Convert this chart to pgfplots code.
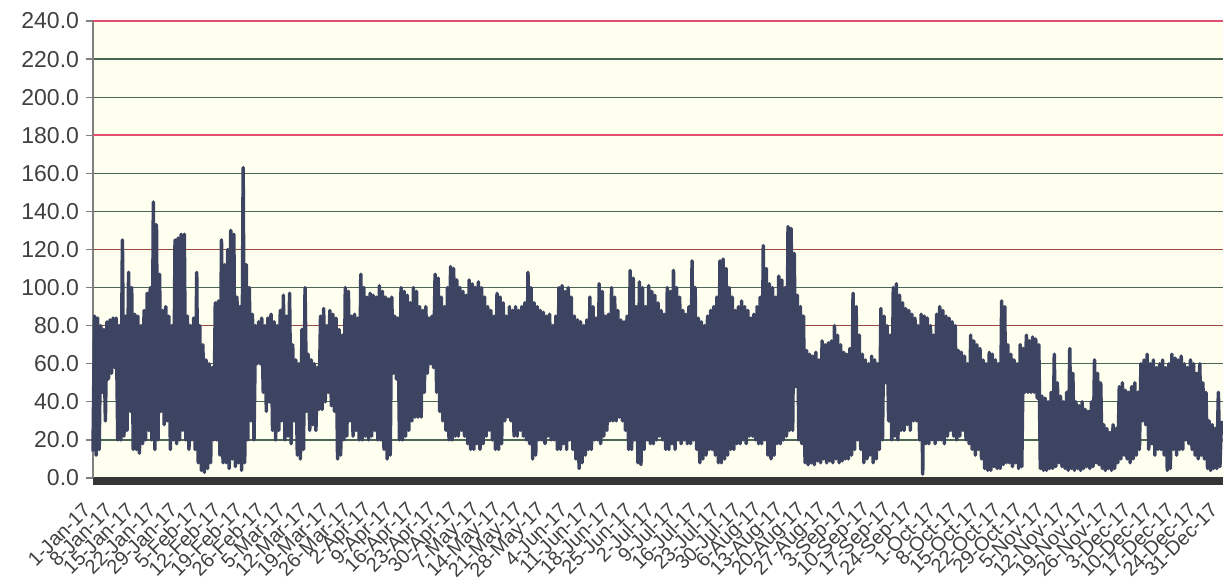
\documentclass[border=0pt]{standalone}
\usepackage{fontspec}
\setmainfont{Liberation Sans}
\usepackage{pgfplots}
\pgfplotsset{compat=1.18}
\definecolor{bgc}{HTML}{FFFFF0}
\definecolor{ser}{HTML}{3D4462}
\definecolor{gridg}{HTML}{4A6656}
\definecolor{gridr}{HTML}{E0506E}
\definecolor{gridb}{HTML}{9A4A40}
\definecolor{txt}{HTML}{404040}
\definecolor{axd}{HTML}{353535}
\begin{document}
\begin{tikzpicture}
\begin{axis}[name=ax,
  width=565bp, height=228.5bp, scale only axis,
  xmin=0, xmax=365, ymin=0, ymax=240,
  axis background/.style={fill=bgc},
  axis x line=bottom, axis y line=left,
  x axis line style={-, line width=4bp, color=axd, yshift=-1.5bp},
  y axis line style={-, line width=0.7bp, color=gray},
  ytick={0,20,...,240},
  tick align=outside, major tick length=3.5bp,
  ytick style={color=gray, line width=0.6bp},
  xtick style={draw=none},
  ymajorgrids, major grid style={gridg, line width=0.6bp},
  /pgf/number format/assume math mode=true,
  yticklabel={\pgfmathprintnumber[fixed,fixed zerofill,precision=1]{\tick}},
  yticklabel style={font=\fontsize{11.5bp}{13bp}\selectfont, text=txt},
  xtick={0,7,...,364},
  xticklabels={1-Jan-17,8-Jan-17,15-Jan-17,22-Jan-17,29-Jan-17,5-Feb-17,12-Feb-17,19-Feb-17,26-Feb-17,5-Mar-17,12-Mar-17,19-Mar-17,26-Mar-17,2-Apr-17,9-Apr-17,16-Apr-17,23-Apr-17,30-Apr-17,7-May-17,14-May-17,21-May-17,28-May-17,4-Jun-17,11-Jun-17,18-Jun-17,25-Jun-17,2-Jul-17,9-Jul-17,16-Jul-17,23-Jul-17,30-Jul-17,6-Aug-17,13-Aug-17,20-Aug-17,27-Aug-17,3-Sep-17,10-Sep-17,17-Sep-17,24-Sep-17,1-Oct-17,8-Oct-17,15-Oct-17,22-Oct-17,29-Oct-17,5-Nov-17,12-Nov-17,19-Nov-17,26-Nov-17,3-Dec-17,10-Dec-17,17-Dec-17,24-Dec-17,31-Dec-17},
  xticklabel style={font=\fontsize{10bp}{12bp}\selectfont, text=txt, yshift=-8.5bp, xshift=-0.5bp, rotate=45, anchor=east},
  clip=false,
]
\draw[gridr, line width=1.2bp] (axis cs:0,240) -- (axis cs:365,240);
\draw[gridr, line width=0.8bp] (axis cs:0,180) -- (axis cs:365,180);
\draw[gridb, line width=0.6bp] (axis cs:0,120) -- (axis cs:365,120);
\draw[gridb, line width=0.6bp] (axis cs:0,80) -- (axis cs:365,80);
\addplot[ser, line width=1.75bp, line join=round] coordinates {
(0,14)(0.5,85)(1,12)(1.5,84)(2,15)(2.5,80)(3,45)(3.5,78)(4,30)(4.5,82)(5,52)(5.5,83)(6,55)(6.5,84)
(7,58)(7.5,84)(8,20)(8.5,80)(9,20)(9.5,125)(10,22)(10.5,85)(11,25)(11.5,108)(12,35)(12.5,100)(13,15)(13.5,86)
(14,15)(14.5,85)(15,13)(15.5,80)(16,18)(16.5,88)(17,20)(17.5,97)(18,25)(18.5,100)(19,20)(19.5,145)(20,15)(20.5,133)
(21,20)(21.5,107)(22,35)(22.5,88)(23,28)(23.5,90)(24,30)(24.5,85)(25,15)(25.5,80)(26,20)(26.5,125)(27,18)(27.5,126)
(28,20)(28.5,128)(29,25)(29.5,128)(30,20)(30.5,85)(31,15)(31.5,80)(32,20)(32.5,84)(33,15)(33.5,108)(34,8)(34.5,80)
(35,4)(35.5,70)(36,3)(36.5,62)(37,5)(37.5,60)(38,8)(38.5,58)(39,20)(39.5,92)(40,20)(40.5,93)(41,12)(41.5,125)
(42,8)(42.5,112)(43,8)(43.5,120)(44,5)(44.5,130)(45,10)(45.5,128)(46,6)(46.5,95)(47,8)(47.5,90)(48,4)(48.5,163)
(49,8)(49.5,112)(50,20)(50.5,100)(51,30)(51.5,86)(52,20)(52.5,80)(53,60)(53.5,82)(54,60)(54.5,84)(55,45)(55.5,80)
(56,35)(56.5,84)(57,40)(57.5,86)(58,25)(58.5,82)(59,20)(59.5,80)(60,25)(60.5,88)(61,30)(61.5,96)(62,20)(62.5,85)
(63,22)(63.5,97)(64,18)(64.5,70)(65,30)(65.5,62)(66,12)(66.5,60)(67,10)(67.5,78)(68,15)(68.5,100)(69,35)(69.5,65)
(70,25)(70.5,62)(71,28)(71.5,60)(72,25)(72.5,58)(73,36)(73.5,85)(74,36)(74.5,89)(75,40)(75.5,80)(76,45)(76.5,88)
(77,38)(77.5,86)(78,35)(78.5,84)(79,10)(79.5,78)(80,12)(80.5,75)(81,20)(81.5,100)(82,22)(82.5,98)(83,30)(83.5,85)
(84,22)(84.5,86)(85,25)(85.5,84)(86,20)(86.5,107)(87,20)(87.5,100)(88,22)(88.5,95)(89,20)(89.5,97)(90,22)(90.5,96)
(91,25)(91.5,95)(92,20)(92.5,101)(93,20)(93.5,98)(94,15)(94.5,95)(95,10)(95.5,94)(96,12)(96.5,95)(97,55)(97.5,85)
(98,52)(98.5,84)(99,20)(99.5,100)(100,20)(100.5,98)(101,22)(101.5,96)(102,25)(102.5,92)(103,30)(103.5,100)(104,32)(104.5,98)
(105,32)(105.5,90)(106,32)(106.5,88)(107,45)(107.5,90)(108,55)(108.5,84)(109,60)(109.5,85)(110,58)(110.5,107)(111,45)(111.5,105)
(112,35)(112.5,95)(113,30)(113.5,90)(114,25)(114.5,100)(115,20)(115.5,111)(116,20)(116.5,110)(117,22)(117.5,104)(118,22)(118.5,100)
(119,25)(119.5,98)(120,22)(120.5,96)(121,18)(121.5,104)(122,15)(122.5,102)(123,15)(123.5,100)(124,18)(124.5,103)(125,15)(125.5,100)
(126,18)(126.5,95)(127,22)(127.5,90)(128,25)(128.5,88)(129,20)(129.5,85)(130,15)(130.5,97)(131,15)(131.5,95)(132,18)(132.5,92)
(133,30)(133.5,85)(134,32)(134.5,90)(135,30)(135.5,88)(136,22)(136.5,90)(137,22)(137.5,88)(138,25)(138.5,90)(139,22)(139.5,92)
(140,20)(140.5,108)(141,18)(141.5,100)(142,10)(142.5,92)(143,12)(143.5,90)(144,20)(144.5,88)(145,20)(145.5,87)(146,18)(146.5,85)
(147,22)(147.5,86)(148,20)(148.5,80)(149,20)(149.5,85)(150,15)(150.5,100)(151,15)(151.5,101)(152,18)(152.5,98)(153,15)(153.5,100)
(154,20)(154.5,95)(155,15)(155.5,85)(156,10)(156.5,83)(157,5)(157.5,82)(158,8)(158.5,80)(159,12)(159.5,83)(160,15)(160.5,95)
(161,15)(161.5,90)(162,20)(162.5,84)(163,20)(163.5,102)(164,18)(164.5,98)(165,22)(165.5,85)(166,25)(166.5,86)(167,30)(167.5,100)
(168,30)(168.5,95)(169,30)(169.5,88)(170,32)(170.5,83)(171,30)(171.5,82)(172,25)(172.5,85)(173,15)(173.5,109)(174,15)(174.5,105)
(175,20)(175.5,90)(176,8)(176.5,103)(177,7)(177.5,100)(178,15)(178.5,90)(179,20)(179.5,101)(180,18)(180.5,98)(181,18)(181.5,96)
(182,20)(182.5,92)(183,22)(183.5,88)(184,20)(184.5,86)(185,15)(185.5,100)(186,15)(186.5,98)(187,18)(187.5,109)(188,15)(188.5,100)
(189,20)(189.5,95)(190,18)(190.5,88)(191,20)(191.5,86)(192,18)(192.5,90)(193,18)(193.5,114)(194,20)(194.5,100)(195,15)(195.5,84)
(196,8)(196.5,82)(197,10)(197.5,80)(198,12)(198.5,85)(199,15)(199.5,88)(200,15)(200.5,90)(201,12)(201.5,95)(202,8)(202.5,114)
(203,8)(203.5,115)(204,10)(204.5,110)(205,12)(205.5,100)(206,15)(206.5,95)(207,15)(207.5,88)(208,18)(208.5,90)(209,18)(209.5,93)
(210,20)(210.5,90)(211,18)(211.5,88)(212,22)(212.5,84)(213,22)(213.5,86)(214,20)(214.5,90)(215,18)(215.5,95)(216,18)(216.5,122)
(217,20)(217.5,110)(218,12)(218.5,102)(219,10)(219.5,100)(220,12)(220.5,95)(221,18)(221.5,106)(222,18)(222.5,104)(223,20)(223.5,100)
(224,22)(224.5,132)(225,25)(225.5,131)(226,25)(226.5,118)(227,48)(227.5,96)(228,20)(228.5,90)(229,18)(229.5,85)(230,8)(230.5,67)
(231,7)(231.5,65)(232,8)(232.5,64)(233,7)(233.5,66)(234,9)(234.5,62)(235,8)(235.5,72)(236,10)(236.5,70)(237,8)(237.5,71)
(238,9)(238.5,72)(239,8)(239.5,80)(240,10)(240.5,75)(241,8)(241.5,70)(242,9)(242.5,66)(243,10)(243.5,65)(244,10)(244.5,68)
(245,12)(245.5,97)(246,15)(246.5,90)(247,20)(247.5,75)(248,15)(248.5,65)(249,8)(249.5,62)(250,10)(250.5,60)(251,12)(251.5,64)
(252,8)(252.5,62)(253,10)(253.5,60)(254,15)(254.5,89)(255,20)(255.5,85)(256,50)(256.5,80)(257,30)(257.5,75)(258,20)(258.5,100)
(259,22)(259.5,102)(260,20)(260.5,96)(261,25)(261.5,92)(262,25)(262.5,89)(263,28)(263.5,88)(264,25)(264.5,86)(265,30)(265.5,84)
(266,30)(266.5,80)(267,20)(267.5,86)(268,2)(268.5,85)(269,18)(269.5,84)(270,18)(270.5,80)(271,20)(271.5,75)(272,18)(272.5,86)
(273,20)(273.5,90)(274,20)(274.5,88)(275,18)(275.5,85)(276,22)(276.5,84)(277,25)(277.5,82)(278,22)(278.5,80)(279,20)(279.5,67)
(280,22)(280.5,66)(281,25)(281.5,64)(282,20)(282.5,60)(283,18)(283.5,75)(284,15)(284.5,72)(285,12)(285.5,70)(286,15)(286.5,68)
(287,10)(287.5,62)(288,5)(288.5,60)(289,4)(289.5,66)(290,4)(290.5,65)(291,6)(291.5,62)(292,5)(292.5,60)(293,5)(293.5,93)
(294,7)(294.5,90)(295,8)(295.5,70)(296,8)(296.5,65)(297,6)(297.5,62)(298,8)(298.5,60)(299,5)(299.5,70)(300,6)(300.5,68)
(301,45)(301.5,75)(302,45)(302.5,72)(303,45)(303.5,74)(304,45)(304.5,73)(305,42)(305.5,70)(306,5)(306.5,43)(307,4)(307.5,42)
(308,4)(308.5,40)(309,5)(309.5,45)(310,5)(310.5,65)(311,6)(311.5,50)(312,8)(312.5,43)(313,6)(313.5,40)(314,5)(314.5,45)
(315,4)(315.5,68)(316,5)(316.5,55)(317,4)(317.5,40)(318,5)(318.5,38)(319,4)(319.5,40)(320,5)(320.5,36)(321,6)(321.5,35)
(322,5)(322.5,40)(323,6)(323.5,62)(324,8)(324.5,55)(325,7)(325.5,50)(326,5)(326.5,28)(327,4)(327.5,26)(328,5)(328.5,24)
(329,4)(329.5,28)(330,5)(330.5,26)(331,8)(331.5,48)(332,10)(332.5,50)(333,12)(333.5,46)(334,10)(334.5,45)(335,8)(335.5,48)
(336,10)(336.5,50)(337,12)(337.5,45)(338,15)(338.5,60)(339,30)(339.5,62)(340,28)(340.5,65)(341,15)(341.5,60)(342,18)(342.5,62)
(343,12)(343.5,58)(344,15)(344.5,60)(345,15)(345.5,62)(346,12)(346.5,58)(347,4)(347.5,60)(348,5)(348.5,65)(349,15)(349.5,63)
(350,12)(350.5,62)(351,15)(351.5,64)(352,15)(352.5,60)(353,20)(353.5,58)(354,18)(354.5,62)(355,15)(355.5,60)(356,12)(356.5,55)
(357,10)(357.5,60)(358,12)(358.5,50)(359,10)(359.5,45)(360,5)(360.5,30)(361,4)(361.5,28)(362,5)(362.5,26)(363,5)(363.5,45)(364,6)(364.5,30)
};
\end{axis}
\pgfresetboundingbox
\path[use as bounding box] ([xshift=-46.5bp,yshift=-51bp]ax.south west) rectangle ([yshift=10.5bp]ax.north east);
\end{tikzpicture}
\end{document}
